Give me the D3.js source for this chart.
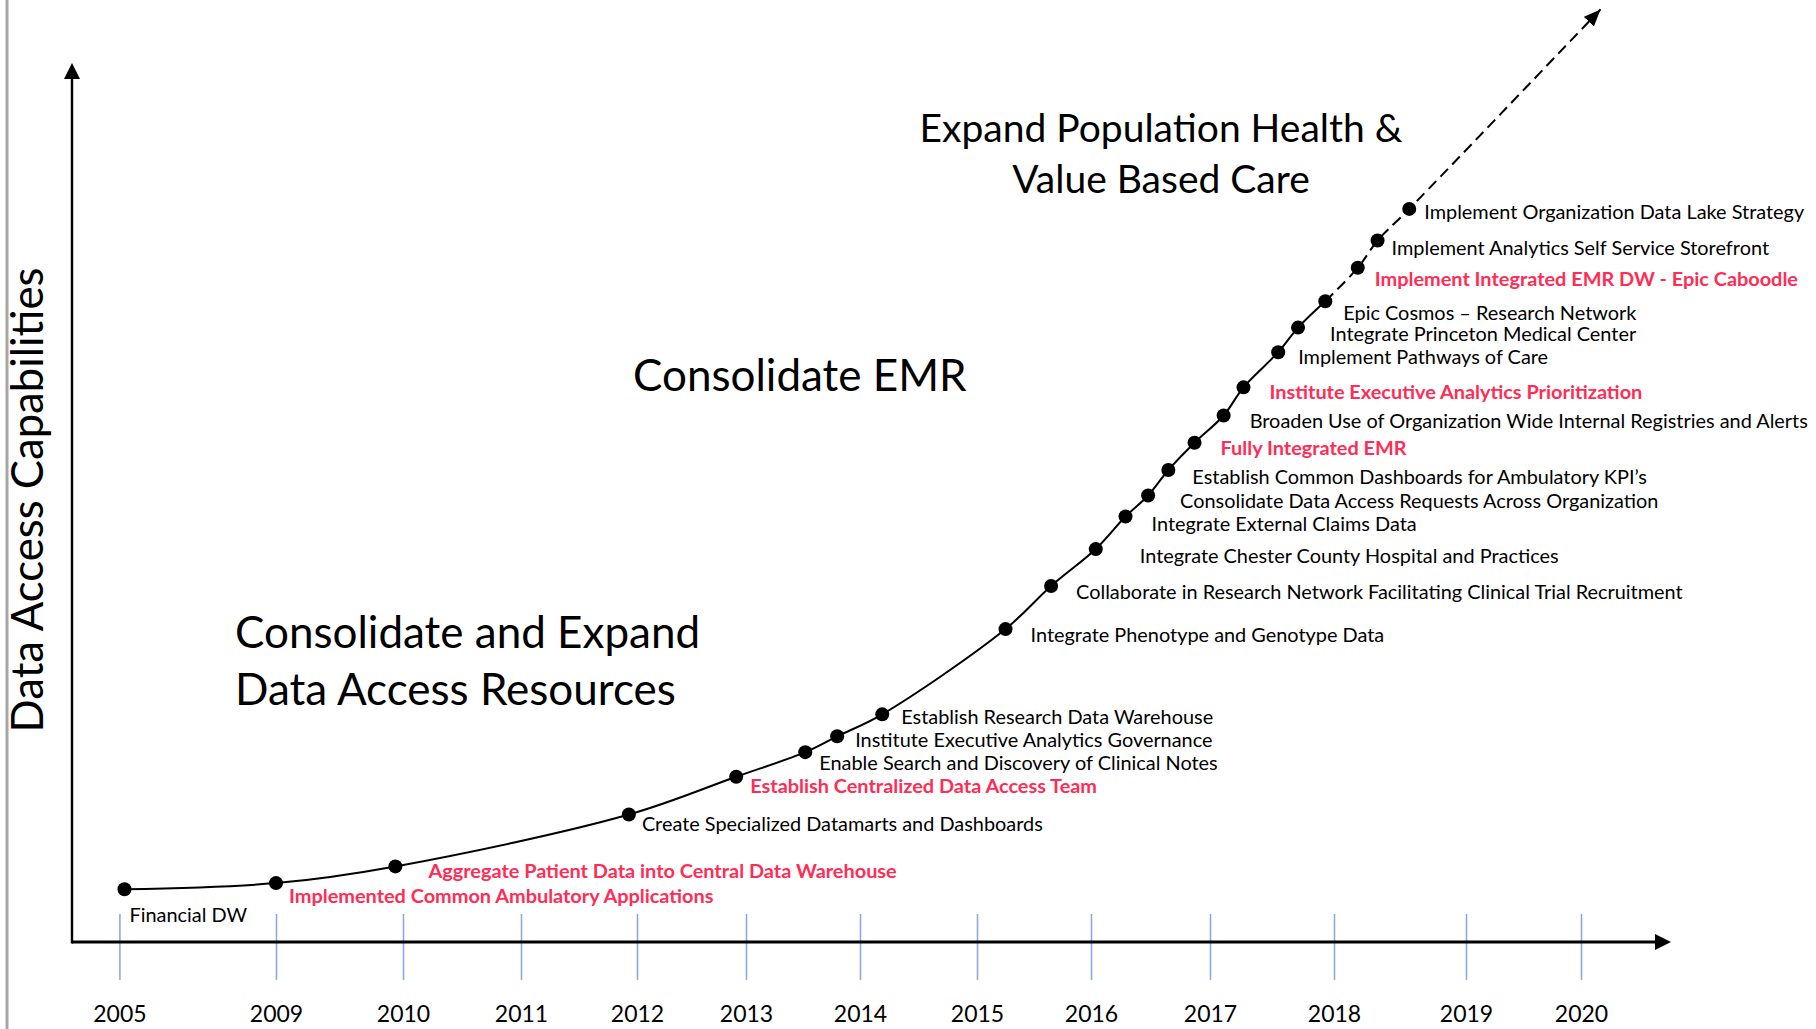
<!DOCTYPE html>
<html>
<head>
<meta charset="utf-8">
<script src="https://cdn.jsdelivr.net/npm/d3@7"></script>
<style>
  html, body { margin: 0; padding: 0; background: #fff; }
  svg { display: block; font-family: Lato, "Open Sans", sans-serif; }
</style>
</head>
<body>
<div id="chart"></div>
<script>
// Timeline of data access milestones, bottom-left to top-right.

const years = [2005, 2009, 2010, 2011, 2012, 2013, 2014, 2015, 2016, 2017, 2018, 2019, 2020];

const milestones = [
  "Financial DW",
  "Implemented Common Ambulatory Applications",
  "Aggregate Patient Data into Central Data Warehouse",
  "Create Specialized Datamarts and Dashboards",
  "Establish Centralized Data Access Team",
  "Enable Search and Discovery of Clinical Notes",
  "Institute Executive Analytics Governance",
  "Establish Research Data Warehouse",
  "Integrate Phenotype and Genotype Data",
  "Collaborate in Research Network Facilitating Clinical Trial Recruitment",
  "Integrate Chester County Hospital and Practices",
  "Integrate External Claims Data",
  "Consolidate Data Access Requests Across Organization",
  "Establish Common Dashboards for Ambulatory KPI\u2019s",
  "Fully Integrated EMR",
  "Broaden Use of Organization Wide Internal Registries and Alerts",
  "Institute Executive Analytics Prioritization",
  "Implement Pathways of Care",
  "Integrate Princeton Medical Center",
  "Epic Cosmos \u2013 Research Network",
  "Implement Integrated EMR DW - Epic Caboodle",
  "Implement Analytics Self Service Storefront",
  "Implement Organization Data Lake Strategy"
];

// when each milestone sits on the timeline (fractional year)
const milestoneYear = [2005.13, 2009.0, 2009.94, 2011.93, 2012.91, 2013.52, 2013.8, 2014.19,
  2015.25, 2015.65, 2016.04, 2016.29, 2016.48, 2016.65, 2016.87, 2017.11, 2017.27, 2017.55,
  2017.71, 2017.93, 2018.18, 2018.33, 2018.57];

// data access capability level (0-100 = bottom to top of the y axis)
const capability = [6.0, 6.7, 8.6, 14.5, 18.8, 21.6, 23.4, 25.9, 35.6, 40.5, 44.7, 48.4,
  50.8, 53.7, 56.8, 59.9, 63.1, 67.1, 69.9, 72.9, 76.7, 79.8, 83.4];

const keyMilestones = [
  "Implemented Common Ambulatory Applications",
  "Aggregate Patient Data into Central Data Warehouse",
  "Establish Centralized Data Access Team",
  "Fully Integrated EMR",
  "Institute Executive Analytics Prioritization",
  "Implement Integrated EMR DW - Epic Caboodle"
];

const plannedFrom = "Epic Cosmos \u2013 Research Network";
const trendEnd = { year: 2020.17, cap: 106.1 };

const phaseTitles = [
  ["Consolidate and Expand", "Data Access Resources"],
  ["Consolidate EMR"],
  ["Expand Population Health &", "Value Based Care"]
];

const axisTitle = "Data Access Capabilities";

// ---- layout ----
const width = 1816;
const height = 1029;
const axisX = 72;
const axisY = 942;
const axisTop = 63;
const axisRight = 1671;
// the slide spaces the year ticks unevenly
const tickPixels = [119.4, 276, 403, 521, 637, 746, 860, 977, 1091, 1210, 1334, 1466, 1581];

const svg = d3.select("#chart")
  .append("svg")
  .attr("width", width)
  .attr("height", height);

svg.append("rect").attr("width", width).attr("height", height).attr("fill", "#fff");

const x = d3.scaleLinear().domain(years).range(tickPixels);
const y = d3.scaleLinear().domain([0, 100]).range([axisY, axisTop]);

const defs = svg.append("defs");
function arrow(id, len, half) {
  defs.append("marker")
    .attr("id", id)
    .attr("markerUnits", "userSpaceOnUse")
    .attr("viewBox", `0 0 ${len} ${half * 2}`)
    .attr("markerWidth", len)
    .attr("markerHeight", half * 2)
    .attr("refX", id === "trend-head" ? len : len / 2)
    .attr("refY", half)
    .attr("orient", "auto")
    .append("path")
    .attr("d", `M0,0L${len},${half}L0,${half * 2}Z`)
    .attr("fill", "#000");
}
arrow("axis-head", 16, 8);
arrow("trend-head", 17, 7);

// slide border on the left
svg.append("line")
  .attr("x1", 7).attr("x2", 7).attr("y1", 0).attr("y2", height)
  .attr("stroke", "#a6a6a6").attr("stroke-width", 3);

// year ticks (drawn under the axis line)
const xAxis = svg.append("g")
  .attr("transform", `translate(0,${axisY - 28})`)
  .call(d3.axisBottom(x).tickValues(years).tickFormat(d3.format("d")).tickSize(66).tickPadding(26))
  .call((g) => g.select(".domain").remove());

xAxis.selectAll(".tick line")
  .attr("stroke", "#8eaadb")
  .attr("stroke-width", 1.6);

xAxis.selectAll(".tick text")
  .attr("fill", "#000")
  .attr("font-family", "Lato, sans-serif")
  .attr("font-size", 23);

// axes with arrow heads
svg.append("line")
  .attr("x1", axisX).attr("y1", axisY)
  .attr("x2", axisRight - 8).attr("y2", axisY)
  .attr("stroke", "#000").attr("stroke-width", 2.8)
  .attr("marker-end", "url(#axis-head)");

svg.append("line")
  .attr("x1", axisX).attr("y1", axisY + 1.4)
  .attr("x2", axisX).attr("y2", axisTop + 8)
  .attr("stroke", "#000").attr("stroke-width", 2.4)
  .attr("marker-end", "url(#axis-head)");

svg.append("text")
  .attr("transform", `translate(43,500) rotate(-90)`)
  .attr("text-anchor", "middle")
  .attr("font-size", 43.7)
  .attr("fill", "#000")
  .text(axisTitle);

// phase titles
const phaseLayout = [
  { x: 235, y: 648, anchor: "start", size: 44, lead: 57 },
  { x: 633, y: 391, anchor: "start", size: 44, lead: 57 },
  { x: 1161, y: 142, anchor: "middle", size: 39, lead: 51 }
];

phaseTitles.forEach((lines, i) => {
  const p = phaseLayout[i];
  const t = svg.append("text")
    .attr("x", p.x).attr("y", p.y)
    .attr("text-anchor", p.anchor)
    .attr("font-size", p.size)
    .attr("fill", "#000");
  lines.forEach((line, j) => {
    t.append("tspan").attr("x", p.x).attr("dy", j === 0 ? 0 : p.lead).text(line);
  });
});

// milestone curve
const points = milestones.map((name, i) => ({ name, year: milestoneYear[i], cap: capability[i] }));
const split = milestones.indexOf(plannedFrom);

const line = d3.line()
  .x((d) => x(d.year))
  .y((d) => y(d.cap))
  .curve(d3.curveCatmullRom.alpha(0.5));

svg.append("path")
  .attr("d", line(points.slice(0, split + 1)))
  .attr("fill", "none")
  .attr("stroke", "#000")
  .attr("stroke-width", 2);

svg.append("path")
  .attr("d", line(points.slice(split).concat([trendEnd])))
  .attr("fill", "none")
  .attr("stroke", "#000")
  .attr("stroke-width", 2)
  .attr("stroke-dasharray", "11,6")
  .attr("marker-end", "url(#trend-head)");

svg.append("g")
  .selectAll("circle")
  .data(points)
  .enter()
  .append("circle")
  .attr("cx", (d) => x(d.year))
  .attr("cy", (d) => y(d.cap))
  .attr("r", 7)
  .attr("fill", "#000");

// label offsets from each dot: [dx, dy to baseline]
const labelOffsets = [
  [5, 33], [13, 19.5], [33, 11.5], [13, 16], [14, 16], [14, 18], [18, 11], [19, 10],
  [25, 13], [25, 13], [44, 14], [26, 14], [32, 13], [24, 14], [26, 12], [26, 13],
  [26, 12], [20, 12], [32, 13], [18, 19], [17, 18], [14, 14], [15, 10]
];

svg.append("g")
  .selectAll("text")
  .data(points)
  .enter()
  .append("text")
  .attr("x", (d, i) => x(d.year) + labelOffsets[i][0])
  .attr("y", (d, i) => y(d.cap) + labelOffsets[i][1])
  .attr("font-size", 19.9)
  .attr("font-weight", (d) => (keyMilestones.includes(d.name) ? 700 : 400))
  .attr("fill", (d) => (keyMilestones.includes(d.name) ? "#ff2d55" : "#000"))
  .text((d) => d.name);
</script>
</body>
</html>
